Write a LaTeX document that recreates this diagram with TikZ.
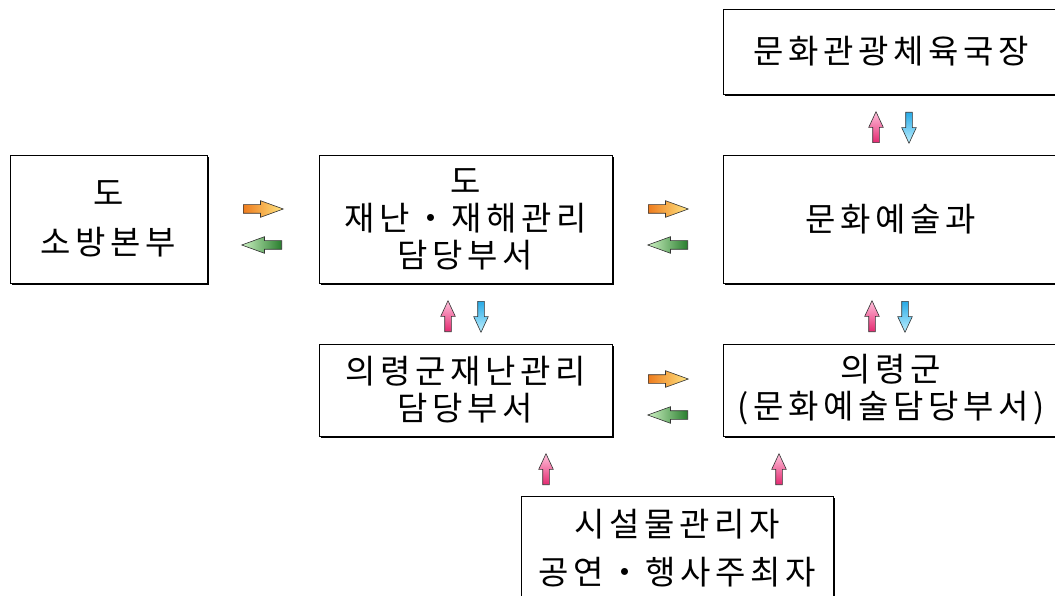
\documentclass[tikz,border=0pt]{standalone}
\usepackage{fontspec}
\setmainfont[LetterSpace=14]{Noto Sans CJK KR}
\usetikzlibrary{shapes.arrows,shadows}

\begin{document}
\begin{tikzpicture}[
  x=1pt,y=-1pt,
  font=\fontsize{33}{37}\selectfont,
  box/.style={draw,line width=0.8pt,fill=white,align=center,inner sep=0pt,
              drop shadow={shadow xshift=1.8pt,shadow yshift=-1.8pt,fill=black,opacity=1}},
  blk/.style={single arrow,draw=black!80,line width=0.6pt,minimum size=0pt,
              single arrow head indent=0pt,single arrow head extend=4pt},
  hor/.style={blk,inner sep=4pt,minimum height=40pt,single arrow tip angle=40},
  ver/.style={blk,inner sep=3pt,minimum height=31pt,single arrow tip angle=50},
  rarr/.style={hor,anchor=tail,left color={rgb,255:red,238;green,124;blue,30},
               right color={rgb,255:red,255;green,230;blue,130}},
  larr/.style={hor,anchor=tail,shape border rotate=180,left color={rgb,255:red,205;green,242;blue,195},
               right color={rgb,255:red,40;green,125;blue,45}},
  uarr/.style={ver,anchor=tail,shape border rotate=90,top color={rgb,255:red,255;green,195;blue,220},
               bottom color={rgb,255:red,228;green,40;blue,112}},
  darr/.style={ver,anchor=tail,shape border rotate=270,top color={rgb,255:red,40;green,170;blue,230},
               bottom color={rgb,255:red,190;green,240;blue,255}}
]
\useasboundingbox (0,0) rectangle (1055,596);

\node[box,minimum width=197pt,minimum height=128pt] (sobang) at (108.5,219)
 {도\\[12pt]소방본부};
\node[box,minimum width=293pt,minimum height=128pt] (jaenan) at (465.5,219)
 {도\\재난・재해관리\\담당부서};
\node[box,minimum width=336pt,minimum height=128pt] (munye) at (891,219) {문화예술과};
\node[box,minimum width=336pt,minimum height=85pt] (gukjang) at (891,51.5) {문화관광체육국장};
\node[box,minimum width=293pt,minimum height=92pt] (gunjaenan) at (465.5,390)
 {의령군재난관리\\담당부서};
\node[box,minimum width=336pt,minimum height=92pt] (gunmunye) at (891,390)
 {의령군\\(문화예술담당부서)};
\node[box,minimum width=312pt,minimum height=104pt] (juche) at (677,548)
 {시설물관리자\\[11pt]공연・행사주최자};

% horizontal pairs
\node[rarr] (a1r) at (243,209) {};
\node[larr] (a1l) at (282,245) {};
\node[rarr] (a2r) at (648,209) {};
\node[larr] (a2l) at (688,245) {};
\node[rarr] (a3r) at (648,379) {};
\node[larr] (a3l) at (688,415) {};

% vertical pairs
\node[uarr] (v1u) at (876,143) {};
\node[darr] (v1d) at (909,112) {};
\node[uarr] (v2u) at (448,332) {};
\node[darr] (v2d) at (481,301) {};
\node[uarr] (v3u) at (872,332) {};
\node[darr] (v3d) at (905,301) {};
\node[uarr] (v4u) at (546,485) {};
\node[uarr] (v5u) at (779,485) {};
\end{tikzpicture}
\end{document}
